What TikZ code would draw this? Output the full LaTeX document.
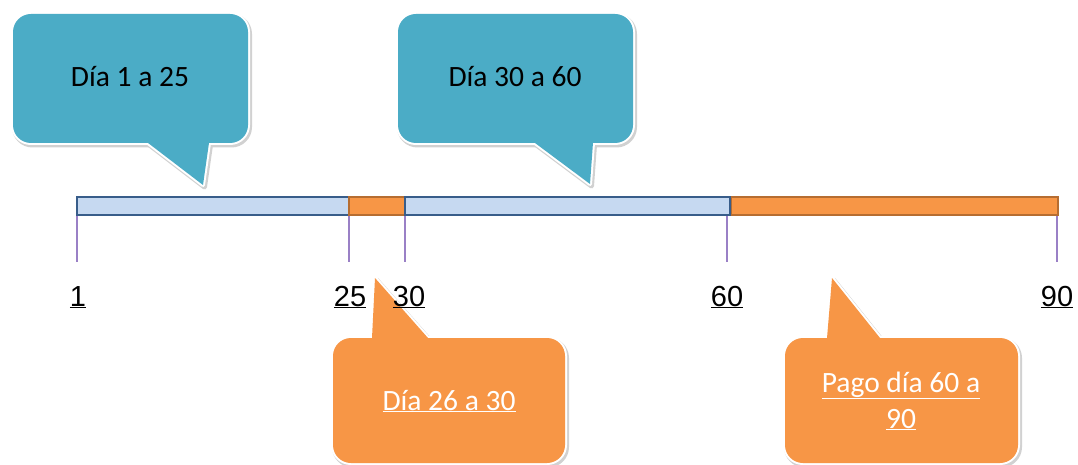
\documentclass[tikz,border=0pt]{standalone}
\usepackage{fontspec}
\setmainfont{Liberation Sans}
\newfontfamily\calib{Carlito}
\definecolor{tealc}{HTML}{4BACC6}
\definecolor{orangec}{HTML}{F79646}
\definecolor{orangeb}{HTML}{B66D31}
\definecolor{bluef}{HTML}{C6D9F1}
\definecolor{blueb}{HTML}{385D8A}
\definecolor{tickc}{HTML}{9A80C6}
\tikzset{
  shadowpath/.style={draw=black!18, fill=black!18, line width=5pt, line join=round},
  outlinepath/.style={draw=white, line width=4pt, line join=round},
  tealpath/.style={fill=tealc},
  orangepath/.style={fill=orangec},
  bluebar/.style={fill=bluef, draw=blueb, line width=2.4pt},
  orangebar/.style={fill=orangec, draw=orangeb, line width=1.8pt},
  tickline/.style={draw=tickc, line width=1.2pt},
  numlabel/.style={anchor=base, inner sep=0pt, font=\fontsize{29}{34}\selectfont},
  bubbletext/.style={anchor=base, inner sep=0pt, align=center, font=\calib\fontsize{29.5}{36}\selectfont},
}
\begin{document}
\begin{tikzpicture}[x=1pt,y=-1pt]
\useasboundingbox (0,0) rectangle (1078,465);
% ---------- shadows ----------
\begin{scope}[xshift=1.5pt,yshift=-2pt]
  \path[shadowpath,rounded corners=18pt] (13,14) rectangle (248,143);
  \path[shadowpath] (135,133) -- (203,185) -- (210.4,133) -- cycle;
  \path[shadowpath,rounded corners=18pt] (398,14) rectangle (633,143);
  \path[shadowpath] (521.6,133) -- (590,184) -- (593.7,133) -- cycle;
  \path[shadowpath,rounded corners=18pt] (333,338) rectangle (565,463);
  \path[shadowpath] (371.5,348) -- (375,278) -- (436.8,348) -- cycle;
  \path[shadowpath,rounded corners=18pt] (785,338) rectangle (1018,463);
  \path[shadowpath] (826.2,348) -- (832,278) -- (888,348) -- cycle;
\end{scope}
% ---------- white outlines ----------
\path[outlinepath,rounded corners=18pt] (13,14) rectangle (248,143);
\path[outlinepath] (135,133) -- (203,185) -- (210.4,133) -- cycle;
\path[outlinepath,rounded corners=18pt] (398,14) rectangle (633,143);
\path[outlinepath] (521.6,133) -- (590,184) -- (593.7,133) -- cycle;
\path[outlinepath,rounded corners=18pt] (333,338) rectangle (565,463);
\path[outlinepath] (371.5,348) -- (375,278) -- (436.8,348) -- cycle;
\path[outlinepath,rounded corners=18pt] (785,338) rectangle (1018,463);
\path[outlinepath] (826.2,348) -- (832,278) -- (888,348) -- cycle;
% ---------- fills ----------
\path[tealpath,rounded corners=18pt] (13,14) rectangle (248,143);
\path[tealpath] (135,133) -- (203,185) -- (210.4,133) -- cycle;
\path[tealpath,rounded corners=18pt] (398,14) rectangle (633,143);
\path[tealpath] (521.6,133) -- (590,184) -- (593.7,133) -- cycle;
\path[orangepath,rounded corners=18pt] (333,338) rectangle (565,463);
\path[orangepath] (371.5,348) -- (375,278) -- (436.8,348) -- cycle;
\path[orangepath,rounded corners=18pt] (785,338) rectangle (1018,463);
\path[orangepath] (826.2,348) -- (832,278) -- (888,348) -- cycle;
% ---------- bubble texts ----------
\node[bubbletext] (t1) at (130,87) {Día 1 a 25};
\node[bubbletext] (t2) at (515,87) {Día 30 a 60};
\node[bubbletext, text=white] (t3) at (449,410) {\underline{Día 26 a 30}};
\node[bubbletext, text=white] (t4) at (901,428) {\underline{Pago día 60 a}\\\underline{90}};
% ---------- timeline bar ----------
\path[bluebar] (77,197) rectangle (349,215);
\path[orangebar] (349,197) rectangle (405,215);
\path[orangebar] (731,197) rectangle (1058,215);
\path[bluebar] (405,197) rectangle (730,215);
% ---------- ticks ----------
\coordinate (a1) at (77,216);   \coordinate (b1) at (77,262);
\coordinate (a2) at (349,216);  \coordinate (b2) at (349,262);
\coordinate (a3) at (405,216);  \coordinate (b3) at (405,262);
\coordinate (a4) at (727,216);  \coordinate (b4) at (727,262);
\coordinate (a5) at (1057,216); \coordinate (b5) at (1057,262);
\draw[tickline] (a1) -- (b1);
\draw[tickline] (a2) -- (b2);
\draw[tickline] (a3) -- (b3);
\draw[tickline] (a4) -- (b4);
\draw[tickline] (a5) -- (b5);
% ---------- labels ----------
\node[numlabel] (l1) at (78,306) {\underline{1}};
\node[numlabel] (l2) at (350,306) {\underline{25}};
\node[numlabel] (l3) at (409,306) {\underline{30}};
\node[numlabel] (l4) at (727,306) {\underline{60}};
\node[numlabel] (l5) at (1057,306) {\underline{90}};
\end{tikzpicture}
\end{document}
